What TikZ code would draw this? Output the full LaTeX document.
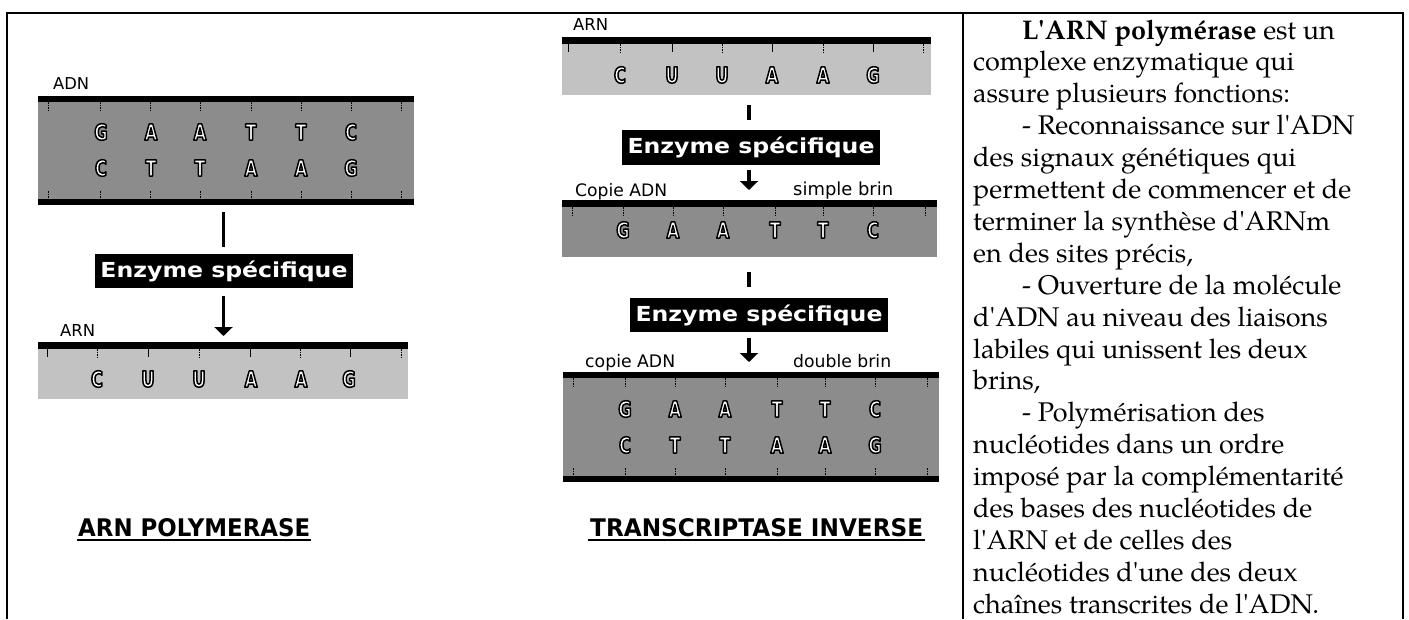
\documentclass[tikz,border=0pt]{standalone}
\usepackage{fontspec}
\setmainfont{TeX Gyre Pagella}[Ligatures=TeXOff]
\setsansfont{DejaVu Sans}
\newfontfamily\nucfont{DejaVu Sans}[FakeStretch=0.74]
\usetikzlibrary{arrows.meta}
\definecolor{dnagray}{gray}{0.55}
\definecolor{arngray}{gray}{0.76}
\newcommand\nucl[1]{\special{pdf:literal direct 2 Tr 1.5 w 1 j 0 G}{\nucfont\bfseries\fontsize{22}{22}\selectfont #1}\special{pdf:literal direct 0 Tr}}
\newcommand\lbl[2]{\resizebox{#1}{!}{\sffamily #2}}
\begin{document}
\begin{tikzpicture}[x=1pt,y=-1pt,
  stripbox/.style={inner sep=0, outer sep=0, draw=none},
  dna/.style={stripbox, fill=dnagray},
  arn/.style={stripbox, fill=arngray},
  enz/.style={fill=black, text=white, inner sep=0, outer sep=0, minimum width=258pt},
  nuc/.style={text=white, inner sep=0},
  lab/.style={anchor=base west, inner sep=0},
  conn/.style={line width=3.5pt},
  arr/.style={conn, -{Triangle[width=18pt,length=9pt]}},
  tickd/.style={line width=1pt, dash pattern=on 1.5pt off 1pt},
  tickp/.style={line width=1pt},
  bar/.style={fill=black},
  txt/.style={anchor=base west, inner sep=0, font=\fontsize{27}{32}\selectfont},
  border/.style={line width=2pt}]
\useasboundingbox (0,0) rectangle (1409,619);
% table borders
\draw[border] (7,619) -- (7,13) -- (1403,13) -- (1403,619);
\draw[border] (963,13) -- (963,619);

% ---------- left column ----------
\node[dna, minimum width=376pt, minimum height=109pt] (l1) at (226,150.5) {};
\fill[bar] (l1.north west) rectangle ([yshift=-6pt]l1.north east);
\fill[bar] (l1.south west) rectangle ([yshift=6pt]l1.south east);
\foreach \x in {48,100,150,200,251,301,351,401} {
  \draw[tickd] (\x,102) -- (\x,110);
  \draw[tickd] (\x,191) -- (\x,199);
}
\foreach \x/\a/\b [count=\i] in {101/G/C,151/A/T,200/A/T,251/T/A,301/T/A,351/C/G} {
  \node[nuc] (l1a\i) at (\x,132) {\nucl{\a}};
  \node[nuc] (l1b\i) at (\x,168) {\nucl{\b}};
}
\node[lab] (adnL) at (53,89) {\lbl{36pt}{ADN}};

\node[enz, minimum height=34pt] (e1) at (224,271) {\resizebox*{247pt}{21pt}{\sffamily\bfseries Enzyme spécifique}};

\node[arn, minimum width=370pt, minimum height=57pt] (l2) at (223,370.5) {};
\fill[bar] (l2.north west) rectangle ([yshift=-7pt]l2.north east);
\foreach \x in {47,148,250,350} \draw[tickp] (\x,349) -- (\x,357);
\foreach \x in {97,199,300,401} \draw[tickd] (\x,349) -- (\x,357);
\foreach \x/\a [count=\i] in {97/C,148/U,199/U,251/A,301/A,349/G}
  \node[nuc] (l2a\i) at (\x,379) {\nucl{\a}};
\node[lab] (arnL) at (60,336) {\lbl{35pt}{ARN}};

\coordinate (laxis) at (223.5,0);
\draw[conn, shorten <=7pt, shorten >=7pt] (laxis |- l1.south) -- (laxis |- e1.north);
\draw[arr, shorten <=8pt, shorten >=6pt] (laxis |- e1.south) -- (laxis |- l2.north);

\node[lab] (h1) at (78,536.5) {\resizebox{232pt}{18pt}{\sffamily\bfseries ARN POLYMERASE}};
\draw[line width=2pt] ([yshift=-3pt,xshift=-1pt]h1.base west) -- ([yshift=-3pt,xshift=1pt]h1.base east);

% ---------- middle column ----------
\node[arn, minimum width=369pt, minimum height=58pt] (m1) at (746.5,66) {};
\fill[bar] (m1.north west) rectangle ([yshift=-7pt]m1.north east);
\foreach \x in {568,672,772,873} \draw[tickp] (\x,44) -- (\x,52);
\foreach \x in {620,722,823,923} \draw[tickd] (\x,44) -- (\x,52);
\foreach \x/\a [count=\i] in {620/C,672/U,722/U,772/A,823/A,873/G}
  \node[nuc] (m1a\i) at (\x,75) {\nucl{\a}};
\node[lab] (arnM) at (573,30) {\lbl{35pt}{ARN}};

\node[enz, minimum height=35pt] (e2) at (751,147.5) {\resizebox*{247pt}{21pt}{\sffamily\bfseries Enzyme spécifique}};

\node[dna, minimum width=375pt, minimum height=57pt] (m2) at (749.5,228.5) {};
\fill[bar] (m2.north west) rectangle ([yshift=-7pt]m2.north east);
\foreach \x in {572,623,673,723,775,823,873,925} \draw[tickd] (\x,207) -- (\x,215);
\foreach \x/\a [count=\i] in {623/G,673/A,723/A,775/T,823/T,873/C}
  \node[nuc] (m2a\i) at (\x,230) {\nucl{\a}};
\node[lab] (cop1) at (575,196) {\lbl{92pt}{Copie ADN}};
\node[lab] (sim1) at (793,195) {\lbl{100pt}{simple brin}};

\node[enz, minimum height=34pt] (e3) at (759,315) {\resizebox*{247pt}{21pt}{\sffamily\bfseries Enzyme spécifique}};

\node[dna, minimum width=376pt, minimum height=110pt] (m3) at (751,427) {};
\fill[bar] (m3.north west) rectangle ([yshift=-6pt]m3.north east);
\fill[bar] (m3.south west) rectangle ([yshift=6pt]m3.south east);
\foreach \x in {573,625,675,725,777,825,875,927} {
  \draw[tickd] (\x,378) -- (\x,386);
  \draw[tickd] (\x,468) -- (\x,476);
}
\foreach \x/\a/\b [count=\i] in {625/G/C,675/A/T,725/A/T,777/T/A,825/T/A,875/C/G} {
  \node[nuc] (m3a\i) at (\x,409) {\nucl{\a}};
  \node[nuc] (m3b\i) at (\x,445) {\nucl{\b}};
}
\node[lab] (cop2) at (585,367) {\lbl{90pt}{copie ADN}};
\node[lab] (dbl2) at (793,367) {\lbl{98pt}{double brin}};

\coordinate (maxis) at (749,0);
\draw[conn, shorten <=10pt, shorten >=10pt] (maxis |- m1.south) -- (maxis |- e2.north);
\draw[arr, shorten <=5pt, shorten >=10pt] (maxis |- e2.south) -- (maxis |- m2.north);
\draw[conn, shorten <=15pt, shorten >=11pt] (maxis |- m2.south) -- (maxis |- e3.north);
\draw[arr, shorten <=6pt, shorten >=10pt] (maxis |- e3.south) -- (maxis |- m3.north);

\node[lab] (h2) at (590,536.5) {\resizebox{333pt}{18pt}{\sffamily\bfseries TRANSCRIPTASE INVERSE}};
\draw[line width=2pt] ([yshift=-3pt,xshift=-2pt]h2.base west) -- ([yshift=-3pt,xshift=2pt]h2.base east);

% ---------- right column ----------
\node[txt] (t0)  at (1022,39.0)  {\textbf{L'ARN polymérase} est un};
\node[txt] (t1)  at (973,70.9)   {complexe enzymatique qui};
\node[txt] (t2)  at (973,102.8)  {assure plusieurs fonctions:};
\node[txt] (t3)  at (1022,134.7) {- Reconnaissance sur l'ADN};
\node[txt] (t4)  at (973,166.6)  {des signaux génétiques qui};
\node[txt] (t5)  at (973,198.5)  {permettent de commencer et de};
\node[txt] (t6)  at (973,230.4)  {terminer la synthèse d'ARNm};
\node[txt] (t7)  at (973,262.3)  {en des sites précis,};
\node[txt] (t8)  at (1022,294.2) {- Ouverture de la molécule};
\node[txt] (t9)  at (973,326.1)  {d'ADN au niveau des liaisons};
\node[txt] (t10) at (973,358.0)  {labiles qui unissent les deux};
\node[txt] (t11) at (973,389.9)  {brins,};
\node[txt] (t12) at (1022,421.8) {- Polymérisation des};
\node[txt] (t13) at (973,453.7)  {nucléotides dans un ordre};
\node[txt] (t14) at (973,485.6)  {imposé par la complémentarité};
\node[txt] (t15) at (973,517.5)  {des bases des nucléotides de};
\node[txt] (t16) at (973,549.4)  {l'ARN et de celles des};
\node[txt] (t17) at (973,581.3)  {nucléotides d'une des deux};
\node[txt] (t18) at (973,613.2)  {chaînes transcrites de l'ADN.};
\end{tikzpicture}
\end{document}
